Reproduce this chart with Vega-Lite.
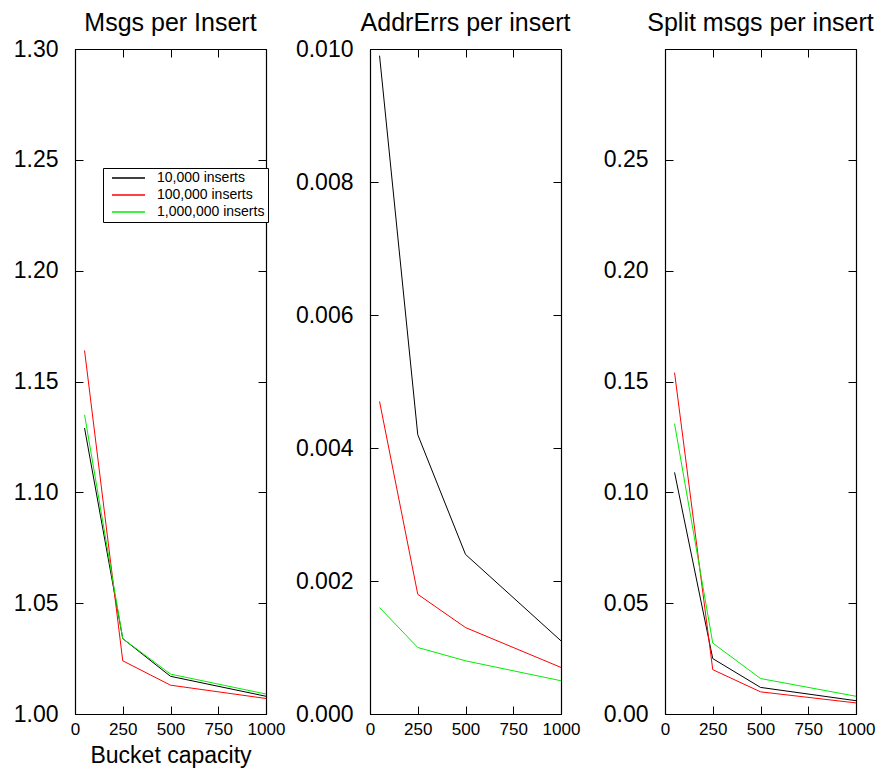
{
  "$schema": "https://vega.github.io/schema/vega-lite/v6.json",
  "background": "white",
  "padding": {"left": 12, "top": 10, "right": 5, "bottom": 0},
  "datasets": {
    "msgs": [
      {"capacity": 50, "inserts": "10,000 inserts", "value": 1.129},
      {"capacity": 250, "inserts": "10,000 inserts", "value": 1.034},
      {"capacity": 500, "inserts": "10,000 inserts", "value": 1.017},
      {"capacity": 1000, "inserts": "10,000 inserts", "value": 1.008},
      {"capacity": 50, "inserts": "100,000 inserts", "value": 1.164},
      {"capacity": 250, "inserts": "100,000 inserts", "value": 1.024},
      {"capacity": 500, "inserts": "100,000 inserts", "value": 1.013},
      {"capacity": 1000, "inserts": "100,000 inserts", "value": 1.007},
      {"capacity": 50, "inserts": "1,000,000 inserts", "value": 1.135},
      {"capacity": 250, "inserts": "1,000,000 inserts", "value": 1.034},
      {"capacity": 500, "inserts": "1,000,000 inserts", "value": 1.018},
      {"capacity": 1000, "inserts": "1,000,000 inserts", "value": 1.009}
    ],
    "addrerrs": [
      {"capacity": 50, "inserts": "10,000 inserts", "value": 0.0099},
      {"capacity": 250, "inserts": "10,000 inserts", "value": 0.0042},
      {"capacity": 500, "inserts": "10,000 inserts", "value": 0.0024},
      {"capacity": 1000, "inserts": "10,000 inserts", "value": 0.0011},
      {"capacity": 50, "inserts": "100,000 inserts", "value": 0.0047},
      {"capacity": 250, "inserts": "100,000 inserts", "value": 0.0018},
      {"capacity": 500, "inserts": "100,000 inserts", "value": 0.0013},
      {"capacity": 1000, "inserts": "100,000 inserts", "value": 0.0007},
      {"capacity": 50, "inserts": "1,000,000 inserts", "value": 0.0016},
      {"capacity": 250, "inserts": "1,000,000 inserts", "value": 0.001},
      {"capacity": 500, "inserts": "1,000,000 inserts", "value": 0.0008},
      {"capacity": 1000, "inserts": "1,000,000 inserts", "value": 0.0005}
    ],
    "splits": [
      {"capacity": 50, "inserts": "10,000 inserts", "value": 0.109},
      {"capacity": 250, "inserts": "10,000 inserts", "value": 0.025},
      {"capacity": 500, "inserts": "10,000 inserts", "value": 0.012},
      {"capacity": 1000, "inserts": "10,000 inserts", "value": 0.006},
      {"capacity": 50, "inserts": "100,000 inserts", "value": 0.154},
      {"capacity": 250, "inserts": "100,000 inserts", "value": 0.02},
      {"capacity": 500, "inserts": "100,000 inserts", "value": 0.01},
      {"capacity": 1000, "inserts": "100,000 inserts", "value": 0.005},
      {"capacity": 50, "inserts": "1,000,000 inserts", "value": 0.131},
      {"capacity": 250, "inserts": "1,000,000 inserts", "value": 0.032},
      {"capacity": 500, "inserts": "1,000,000 inserts", "value": 0.016},
      {"capacity": 1000, "inserts": "1,000,000 inserts", "value": 0.008}
    ]
  },
  "spacing": 104,
  "bounds": "flush",
  "hconcat": [
    {
      "width": 191,
      "height": 665,
      "title": "Msgs per Insert",
      "data": {"name": "msgs"},
      "layer": [
        {
          "mark": {"type": "line", "strokeWidth": 1},
          "encoding": {
            "x": {"field": "capacity", "type": "quantitative", "scale": {"domain": [0, 1000]},
                  "axis": {"values": [0, 250, 500, 750, 1000], "format": "d", "title": "Bucket capacity"}},
            "y": {"field": "value", "type": "quantitative", "scale": {"domain": [1, 1.3], "zero": false},
                  "axis": {"values": [1, 1.05, 1.1, 1.15, 1.2, 1.25, 1.3], "format": ".2f", "title": null}},
            "color": {"field": "inserts", "type": "nominal", "sort": null,
                      "scale": {"domain": ["10,000 inserts", "100,000 inserts", "1,000,000 inserts"], "range": ["black", "#ff0000", "#00ee00"]},
                      "legend": {"title": null, "orient": "none", "legendX": 28, "legendY": 119,
                                 "strokeColor": "black", "fillColor": "white", "padding": 3,
                                 "symbolType": "stroke", "symbolSize": 1089, "symbolStrokeWidth": 1.5, "symbolOffset": 5,
                                 "clipHeight": 14, "labelFontSize": 14, "labelOffset": 11, "rowPadding": 3, "labelColor": "black"}}
          }
        },
        {
          "mark": {"type": "line", "strokeOpacity": 0},
          "encoding": {
            "x": {"field": "capacity", "type": "quantitative", "scale": {"domain": [0, 1000]},
                  "axis": {"values": [0, 250, 500, 750, 1000], "labels": false, "title": null}},
            "y": {"field": "value", "type": "quantitative", "scale": {"domain": [1, 1.3], "zero": false},
                  "axis": {"values": [1, 1.05, 1.1, 1.15, 1.2, 1.25, 1.3], "labels": false, "title": null}},
            "detail": {"field": "inserts"}
          }
        }
      ],
      "resolve": {"axis": {"x": "independent", "y": "independent"}}
    },
    {
      "width": 191,
      "height": 665,
      "title": "AddrErrs per insert",
      "data": {"name": "addrerrs"},
      "layer": [
        {
          "mark": {"type": "line", "strokeWidth": 1},
          "encoding": {
            "x": {"field": "capacity", "type": "quantitative", "scale": {"domain": [0, 1000]},
                  "axis": {"values": [0, 250, 500, 750, 1000], "format": "d", "title": null}},
            "y": {"field": "value", "type": "quantitative", "scale": {"domain": [0, 0.01]},
                  "axis": {"values": [0, 0.002, 0.004, 0.006, 0.008, 0.01], "format": ".3f", "title": null}},
            "color": {"field": "inserts", "type": "nominal", "sort": null,
                      "scale": {"domain": ["10,000 inserts", "100,000 inserts", "1,000,000 inserts"], "range": ["black", "#ff0000", "#00ee00"]},
                      "legend": null}
          }
        },
        {
          "mark": {"type": "line", "strokeOpacity": 0},
          "encoding": {
            "x": {"field": "capacity", "type": "quantitative", "scale": {"domain": [0, 1000]},
                  "axis": {"values": [0, 250, 500, 750, 1000], "labels": false, "title": null}},
            "y": {"field": "value", "type": "quantitative", "scale": {"domain": [0, 0.01]},
                  "axis": {"values": [0, 0.002, 0.004, 0.006, 0.008, 0.01], "labels": false, "title": null}},
            "detail": {"field": "inserts"}
          }
        }
      ],
      "resolve": {"axis": {"x": "independent", "y": "independent"}}
    },
    {
      "width": 191,
      "height": 665,
      "title": "Split msgs per insert",
      "data": {"name": "splits"},
      "layer": [
        {
          "mark": {"type": "line", "strokeWidth": 1},
          "encoding": {
            "x": {"field": "capacity", "type": "quantitative", "scale": {"domain": [0, 1000]},
                  "axis": {"values": [0, 250, 500, 750, 1000], "format": "d", "title": null}},
            "y": {"field": "value", "type": "quantitative", "scale": {"domain": [0, 0.3]},
                  "axis": {"values": [0, 0.05, 0.1, 0.15, 0.2, 0.25, 0.3], "format": ".2f", "title": null,
                           "labelOpacity": {"condition": {"test": "datum.value > 0.29", "value": 0}, "value": 1}}},
            "color": {"field": "inserts", "type": "nominal", "sort": null,
                      "scale": {"domain": ["10,000 inserts", "100,000 inserts", "1,000,000 inserts"], "range": ["black", "#ff0000", "#00ee00"]},
                      "legend": null}
          }
        },
        {
          "mark": {"type": "line", "strokeOpacity": 0},
          "encoding": {
            "x": {"field": "capacity", "type": "quantitative", "scale": {"domain": [0, 1000]},
                  "axis": {"values": [0, 250, 500, 750, 1000], "labels": false, "title": null}},
            "y": {"field": "value", "type": "quantitative", "scale": {"domain": [0, 0.3]},
                  "axis": {"values": [0, 0.05, 0.1, 0.15, 0.2, 0.25, 0.3], "labels": false, "title": null}},
            "detail": {"field": "inserts"}
          }
        }
      ],
      "resolve": {"axis": {"x": "independent", "y": "independent"}}
    }
  ],
  "resolve": {"scale": {"color": "independent"}, "legend": {"color": "independent"}},
  "config": {
    "font": "Liberation Sans",
    "view": {"stroke": "black", "strokeWidth": 1},
    "axis": {
      "grid": false,
      "domainColor": "black",
      "domainWidth": 1.2,
      "tickColor": "black",
      "tickWidth": 1,
      "tickSize": -8,
      "labelColor": "black",
      "labelFont": "Liberation Sans",
      "labelOverlap": false,
      "labelFlush": false,
      "titleColor": "black",
      "titleFont": "Liberation Sans",
      "titleFontWeight": "normal"
    },
    "axisLeft": {"labelFontSize": 23, "labelPadding": 25},
    "axisBottom": {"labelFontSize": 17, "labelPadding": 15, "titleFontSize": 23, "titlePadding": 7},
    "title": {"fontSize": 25, "fontWeight": "normal", "color": "black", "font": "Liberation Sans", "offset": 2}
  }
}
